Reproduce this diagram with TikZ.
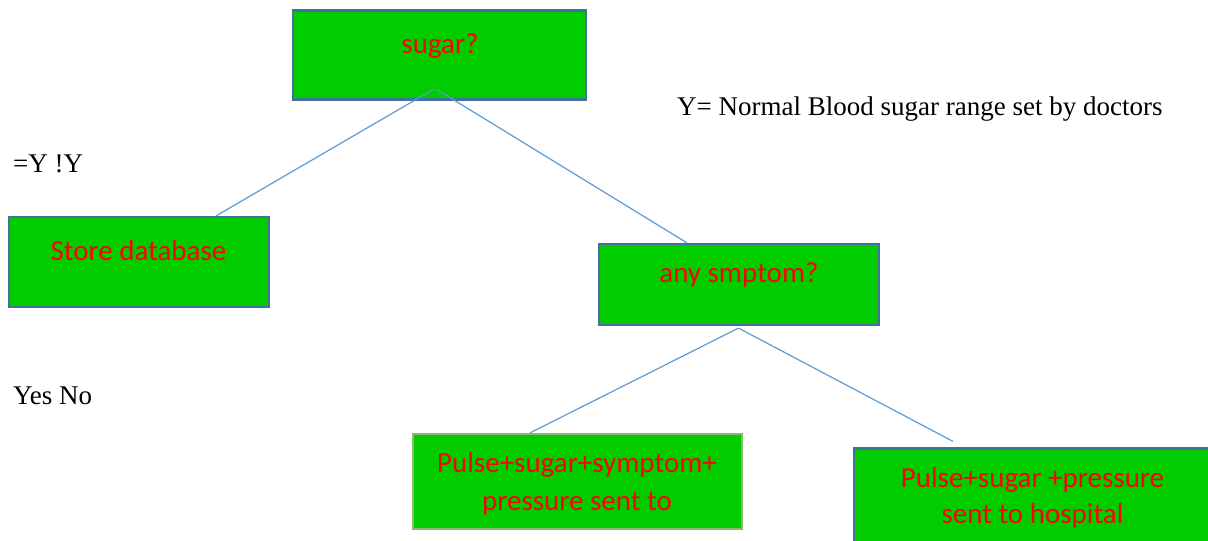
\documentclass[tikz,border=0pt]{standalone}
\usepackage{fontspec}
\setmainfont{Liberation Serif}
\newfontfamily\boxfont{Carlito}
\definecolor{boxfill}{HTML}{00CC00}
\definecolor{boxedge}{HTML}{41719C}
\definecolor{greenedge}{HTML}{8CB86E}
\definecolor{linkblue}{HTML}{5B9BD5}
\definecolor{labelred}{HTML}{FF0000}
\begin{document}
\begin{tikzpicture}[x=1pt,y=-1pt,
  box/.style={draw=boxedge, line width=2.2pt, fill=boxfill, rectangle, inner sep=0pt},
  boxtext/.style={anchor=base, inner sep=0pt, text=labelred, font=\boxfont\fontsize{29}{35}\selectfont},
  note/.style={anchor=base west, inner sep=0pt, text=black, font=\fontsize{27}{32}\selectfont},
  link/.style={draw=linkblue, line width=1.2pt}]
\useasboundingbox (0,0) rectangle (1208,541);

% decision boxes
\node[box, minimum width=293pt, minimum height=89pt] (sugar) at (439.5,55) {};
\node[box, minimum width=260pt, minimum height=90pt] (store) at (139,262) {};
\node[box, minimum width=280pt, minimum height=81pt] (symptom) at (739,284.5) {};
\node[box, draw=greenedge, minimum width=329pt, minimum height=95pt] (pulseA) at (577.5,481.5) {};
\node[box, minimum width=358pt, minimum height=99pt] (pulseB) at (1033,498) {};

% box labels
\node[boxtext] (sugarT) at (440,53) {sugar?};
\node[boxtext] (storeT) at (138.5,260) {Store database};
\node[boxtext] (symptomT) at (739,282) {any smptom?};
\node[boxtext] (pulseA1) at (577,472) {Pulse+sugar+symptom+};
\node[boxtext] (pulseA2) at (577,510) {pressure sent to};
\node[boxtext] (pulseB1) at (1032.5,487) {Pulse+sugar +pressure};
\node[boxtext] (pulseB2) at (1032.5,523) {sent to hospital};

% connectors
\draw[link] ([xshift=-6.5pt,yshift=11pt]sugar.south) -- ([xshift=77pt]store.north);
\draw[link] ([xshift=-2.5pt,yshift=11pt]sugar.south) -- ([xshift=-52pt]symptom.north);
\draw[link] ([xshift=-0.5pt,yshift=-2pt]symptom.south) -- ([xshift=-47.5pt]pulseA.north);
\draw[link] ([xshift=-0.5pt,yshift=-2pt]symptom.south) -- ([xshift=-80pt,yshift=6pt]pulseB.north);

% free notes
\node[note] (legend) at (677,115) {Y= Normal Blood sugar range set by doctors};
\node[note] (cond) at (13,172) {=Y !Y};
\node[note] (answers) at (13,404) {Yes No};
\end{tikzpicture}
\end{document}
